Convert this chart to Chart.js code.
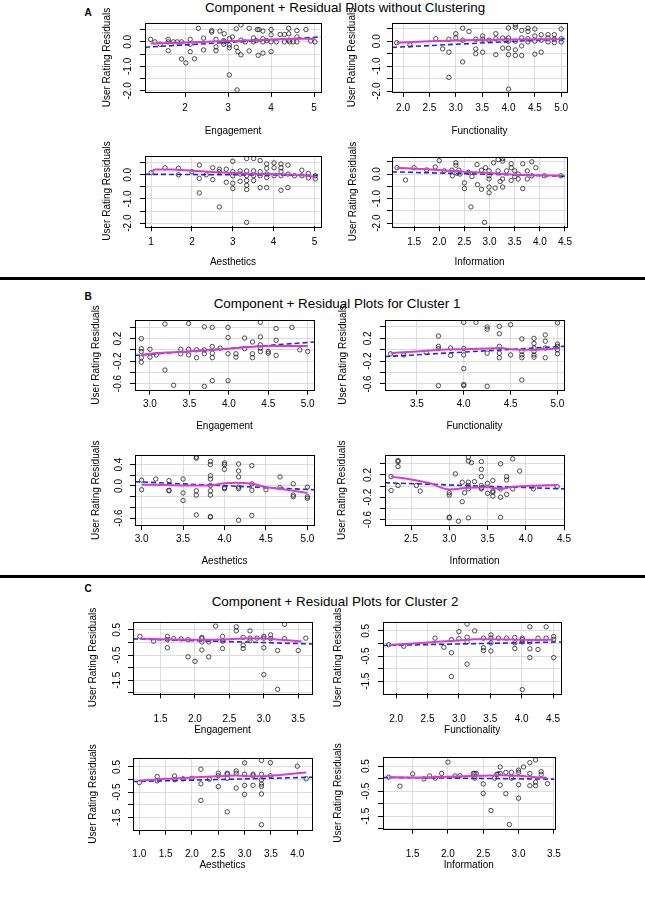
<!DOCTYPE html>
<html>
<head>
<meta charset="utf-8">
<script src="https://cdn.jsdelivr.net/npm/chart.js@4.4.1/dist/chart.umd.min.js"></script>
<style>
  body { margin: 0; background: #fff; width: 645px; height: 899px; overflow: hidden; position: relative;
         font-family: "Liberation Sans", Arial, sans-serif; color: #000; }
  canvas { position: absolute; }
  .title { position: absolute; transform: translate(-50%, -50%); white-space: nowrap; font-size: 13.4px; }
  .letter { position: absolute; transform: translate(-50%, -50%); font-size: 10px; font-weight: bold; }
  .sep { position: absolute; left: 0; width: 645px; height: 2.5px; background: #000; }
</style>
</head>
<body>
<div class="letter" style="left:88px;top:12px">A</div>
<div class="title" style="left:345px;top:7px">Component + Residual Plots without Clustering</div>
<div class="sep" style="top:277px"></div>
<div class="letter" style="left:88px;top:296px">B</div>
<div class="title" style="left:337px;top:303px">Component + Residual Plots for Cluster 1</div>
<div class="sep" style="top:575px"></div>
<div class="letter" style="left:88px;top:588px">C</div>
<div class="title" style="left:335px;top:601px">Component + Residual Plots for Cluster 2</div>

<script>
// ---- data: [component value, residual] ----

// A: without clustering
const ptsA1 = [[1.20,0.10],[1.30,0.00],[1.42,-0.10],[1.61,0.10],[1.61,0.00],[1.61,-0.36],[1.73,0.00],[1.82,0.00],
  [1.92,0.00],[1.92,-0.70],[2.02,-0.86],[2.12,0.10],[2.12,-0.10],[2.12,-0.40],[2.22,-0.69],[2.31,0.55],[2.43,0.15],
  [2.43,-0.33],[2.62,0.46],[2.62,0.40],[2.72,0.10],[2.72,-0.20],[2.72,-0.36],[2.81,0.44],[2.91,0.33],[2.90,0.05],
  [2.90,-0.10],[2.90,0.00],[3.03,0.13],[3.03,-0.13],[3.03,-0.24],[3.03,-1.35],[3.10,0.20],[3.19,0.53],[3.19,-0.22],
  [3.23,-0.40],[3.30,-0.53],[3.30,0.69],[3.21,-1.96],[3.30,0.07],[3.40,0.00],[3.49,0.55],[3.49,-0.37],[3.59,0.16],
  [3.59,0.00],[3.65,0.05],[3.68,0.50],[3.72,0.50],[3.70,-0.55],[3.81,0.44],[3.81,0.13],[3.81,0.00],[3.81,-0.46],
  [3.90,0.05],[4.00,0.50],[4.00,0.29],[4.00,0.00],[4.00,-0.40],[4.12,0.00],[4.21,0.30],[4.31,0.30],[4.31,0.00],
  [4.41,0.55],[4.41,0.33],[4.41,0.07],[4.43,0.00],[4.51,0.00],[4.60,0.46],[4.60,0.20],[4.60,0.00],[4.81,0.50],
  [4.92,0.03],[5.02,0.00]];
const fitA1 = [[1.07,-0.22],[5.16,0.20]];
const smoothA1 = [[1.20,-0.07],[2.00,-0.03],[3.00,0.03],[4.00,0.10],[5.02,0.13]];

const ptsA2 = [[1.88,-0.06],[2.13,-0.15],[2.62,0.10],[2.75,-0.31],[2.87,0.08],[2.87,-0.44],[2.87,-1.45],[3.00,0.30],
  [3.00,0.13],[3.13,0.52],[3.13,0.04],[3.13,-0.83],[3.25,0.39],[3.38,0.08],[3.38,-0.31],[3.38,-0.50],[3.51,0.21],
  [3.51,0.08],[3.51,-0.44],[3.63,0.04],[3.76,0.30],[3.76,0.10],[3.76,-0.54],[3.89,0.13],[3.89,-0.28],[3.95,0.04],
  [4.00,0.53],[4.00,0.13],[4.00,0.00],[4.00,-0.28],[4.00,-0.54],[4.00,-1.92],[4.13,0.65],[4.13,0.55],[4.13,0.00],
  [4.13,-0.35],[4.13,-0.57],[4.25,0.43],[4.25,0.13],[4.25,-0.19],[4.25,-0.57],[4.37,0.52],[4.37,0.39],[4.37,0.10],
  [4.37,-0.03],[4.50,0.49],[4.50,0.21],[4.50,0.00],[4.50,-0.52],[4.62,0.26],[4.62,0.04],[4.62,-0.44],[4.75,0.26],
  [4.75,0.13],[4.75,-0.03],[4.87,0.26],[4.87,0.08],[4.87,-0.06],[5.00,0.49],[5.00,0.10],[5.00,-0.03]];
const fitA2 = [[1.79,-0.25],[5.11,0.10]];
const smoothA2 = [[1.88,-0.06],[2.50,0.00],[3.00,0.03],[3.50,0.05],[4.00,0.07],[4.50,0.08],[5.00,0.08]];

const ptsA3 = [[1.00,0.09],[1.34,0.29],[1.67,0.27],[1.67,0.00],[2.00,0.13],[2.18,0.40],[2.18,-0.15],[2.18,-0.75],
  [2.35,0.00],[2.51,0.29],[2.51,-0.20],[2.67,0.23],[2.67,0.13],[2.67,-1.33],[2.84,0.23],[2.84,-0.31],[3.00,0.56],
  [3.00,0.13],[3.00,-0.04],[3.00,-0.35],[3.00,-0.57],[3.18,0.16],[3.18,0.03],[3.18,-0.27],[3.34,0.67],[3.34,0.16],
  [3.34,-0.04],[3.34,-0.24],[3.34,-0.44],[3.34,-0.61],[3.34,-1.97],[3.51,0.67],[3.51,0.16],[3.51,-0.04],[3.51,-0.24],
  [3.67,0.59],[3.67,0.13],[3.67,-0.04],[3.67,-0.53],[3.83,0.45],[3.83,0.27],[3.83,0.03],[3.83,-0.11],[3.83,-0.53],
  [4.01,0.49],[4.01,0.29],[4.01,-0.04],[4.18,0.45],[4.18,0.29],[4.18,0.13],[4.18,-0.04],[4.18,-0.64],[4.35,0.40],
  [4.35,0.03],[4.35,-0.53],[4.51,-0.04],[4.69,0.19],[4.69,-0.04],[4.85,0.05],[4.85,-0.13],[5.02,-0.04],[5.02,-0.17]];
const fitA3 = [[0.85,0.02],[5.16,-0.02]];
const smoothA3 = [[1.00,0.12],[1.10,0.22],[1.50,0.22],[2.00,0.17],[2.50,0.12],[3.00,0.07],[3.50,0.04],[4.00,0.03],
  [4.50,0.00],[5.02,-0.08]];

const ptsA4 = [[1.16,0.26],[1.33,-0.24],[1.50,0.26],[1.75,0.17],[1.92,0.29],[2.00,0.55],[2.10,0.13],[2.25,0.16],
  [2.26,-0.07],[2.33,0.46],[2.33,0.36],[2.35,0.03],[2.39,0.16],[2.41,0.00],[2.50,-0.36],[2.50,-0.59],[2.58,0.07],
  [2.63,-1.34],[2.65,-0.10],[2.75,0.39],[2.76,-0.43],[2.84,-0.62],[2.84,0.16],[2.92,0.26],[2.90,-1.97],[2.99,0.13],
  [2.99,-0.07],[2.99,-0.20],[2.99,-0.53],[2.99,-0.76],[3.08,0.46],[3.11,-0.57],[3.17,0.59],[3.17,0.13],[3.21,-0.30],
  [3.26,0.63],[3.26,0.53],[3.26,-0.20],[3.26,-0.53],[3.34,0.13],[3.43,0.42],[3.43,0.26],[3.43,-0.26],[3.50,0.13],
  [3.50,-0.10],[3.57,0.00],[3.57,-0.20],[3.66,0.42],[3.66,-0.59],[3.75,0.13],[3.75,-0.20],[3.84,0.50],[3.84,-0.07],
  [3.92,0.26],[4.09,-0.07],[4.42,-0.07]];
const fitA4 = [[1.06,0.09],[4.54,-0.09]];
const smoothA4 = [[1.16,0.26],[2.00,0.17],[2.50,0.09],[3.00,0.04],[3.50,-0.02],[4.00,-0.05],[4.42,-0.07]];

// B: cluster 1
const ptsB1 = [[2.89,0.20],[2.89,0.02],[2.89,-0.03],[2.89,-0.14],[2.89,-0.22],[3.00,0.01],[3.00,-0.13],[3.08,-0.09],
  [3.19,0.46],[3.19,-0.36],[3.30,-0.63],[3.39,0.01],[3.39,-0.07],[3.49,0.47],[3.49,0.01],[3.49,-0.09],[3.59,0.00],
  [3.59,-0.14],[3.69,0.41],[3.69,0.00],[3.69,-0.07],[3.69,-0.65],[3.79,0.40],[3.79,0.06],[3.79,-0.06],[3.79,-0.14],
  [3.79,-0.55],[3.89,0.03],[3.99,0.40],[3.99,0.22],[3.99,-0.07],[3.99,-0.55],[4.09,-0.07],[4.09,-0.13],[4.20,0.21],
  [4.20,0.02],[4.30,0.14],[4.30,-0.07],[4.30,-0.14],[4.40,0.49],[4.40,0.23],[4.40,0.09],[4.40,0.03],[4.40,-0.03],
  [4.50,-0.03],[4.50,-0.06],[4.60,0.38],[4.60,0.17],[4.60,-0.10],[4.80,0.40],[4.90,0.00],[5.00,-0.03]];
const fitB1 = [[2.81,-0.10],[5.08,0.14]];
const smoothB1 = [[2.89,-0.09],[3.00,-0.07],[3.50,-0.03],[4.00,0.02],[4.50,0.07],[5.00,0.07]];

const ptsB2 = [[3.22,-0.07],[3.36,-0.09],[3.60,-0.05],[3.73,0.24],[3.73,0.06],[3.73,0.02],[3.73,-0.63],[3.86,0.03],
  [3.86,-0.10],[4.00,0.48],[4.00,0.02],[4.00,-0.09],[4.00,-0.33],[4.00,-0.61],[4.00,-0.63],[4.13,0.48],[4.25,0.40],
  [4.25,0.36],[4.25,-0.06],[4.25,-0.64],[4.38,0.41],[4.38,0.28],[4.38,0.06],[4.38,-0.06],[4.38,-0.14],[4.50,0.44],
  [4.50,-0.09],[4.62,0.19],[4.62,-0.03],[4.62,-0.09],[4.62,-0.14],[4.62,-0.53],[4.75,0.20],[4.75,0.11],[4.75,0.03],
  [4.75,-0.03],[4.75,-0.09],[4.75,-0.13],[4.87,0.26],[4.87,0.15],[4.87,0.03],[4.87,-0.14],[5.00,0.47],[5.00,0.10],
  [5.00,0.06],[5.00,0.00],[5.00,-0.07]];
const fitB2 = [[3.16,-0.12],[5.07,0.06]];
const smoothB2 = [[3.22,-0.06],[3.50,-0.03],[3.75,0.00],[4.00,0.01],[4.25,0.02],[4.40,0.03],[4.50,0.01],[4.75,0.00],
  [5.00,0.02]];

const ptsB3 = [[3.00,0.11],[3.00,-0.07],[3.17,0.13],[3.33,0.10],[3.33,-0.08],[3.33,-0.09],[3.50,0.13],[3.50,-0.13],
  [3.50,-0.27],[3.66,0.54],[3.66,0.52],[3.66,-0.09],[3.66,-0.17],[3.66,-0.54],[3.83,0.46],[3.83,0.40],[3.83,0.19],
  [3.83,0.13],[3.83,0.01],[3.83,-0.09],[3.83,-0.17],[3.83,-0.57],[3.83,-0.58],[4.00,0.43],[4.00,0.40],[4.00,0.31],
  [4.00,-0.03],[4.00,-0.05],[4.17,0.41],[4.17,0.28],[4.17,0.17],[4.17,-0.02],[4.17,-0.05],[4.17,-0.64],[4.33,0.38],
  [4.33,0.04],[4.33,-0.08],[4.33,-0.55],[4.50,-0.07],[4.67,0.17],[4.67,-0.03],[4.83,0.04],[4.83,-0.17],[4.83,-0.20],
  [5.00,-0.02],[5.00,-0.20],[5.00,-0.23]];
const fitB3 = [[2.92,0.08],[5.08,-0.07]];
const smoothB3 = [[3.00,0.03],[3.50,0.01],[3.83,0.01],[4.00,0.05],[4.15,0.06],[4.33,0.04],[4.50,-0.02],[4.75,-0.07],
  [5.00,-0.13]];

const ptsB4 = [[2.24,0.17],[2.24,-0.08],[2.33,0.46],[2.33,0.44],[2.33,0.35],[2.33,0.01],[2.57,0.01],[2.62,-0.09],
  [3.00,-0.12],[3.00,-0.16],[3.00,-0.56],[3.00,-0.57],[3.08,0.22],[3.12,-0.63],[3.17,0.07],[3.17,-0.28],[3.20,-0.12],
  [3.25,0.52],[3.25,0.45],[3.25,0.07],[3.25,0.01],[3.25,-0.05],[3.25,-0.57],[3.29,0.42],[3.33,0.08],[3.42,0.44],
  [3.42,0.30],[3.42,0.17],[3.42,0.01],[3.42,-0.03],[3.42,-0.05],[3.50,0.05],[3.50,-0.13],[3.57,0.10],[3.57,-0.09],
  [3.57,-0.11],[3.57,-0.18],[3.67,-0.05],[3.67,0.40],[3.67,-0.20],[3.67,-0.56],[3.75,0.17],[3.75,0.11],[3.75,-0.15],
  [3.83,0.49],[3.83,-0.05],[3.92,0.27],[4.10,-0.05],[4.41,-0.01]];
const fitB4 = [[2.16,0.06],[4.50,-0.05]];
const smoothB4 = [[2.24,0.17],[2.50,0.12],[2.75,0.05],[3.00,-0.06],[3.25,-0.03],[3.50,-0.02],[3.67,-0.05],[3.83,-0.01],
  [4.00,0.00],[4.41,0.02]];

// C: cluster 2
const ptsC1 = [[1.20,0.24],[1.40,0.05],[1.60,0.24],[1.60,0.11],[1.60,-0.21],[1.69,0.15],[1.80,0.14],[1.90,0.11],
  [1.90,-0.57],[2.00,-0.75],[2.10,0.20],[2.10,0.15],[2.10,0.02],[2.10,-0.30],[2.20,0.02],[2.20,-0.57],[2.30,0.65],
  [2.40,0.24],[2.40,0.05],[2.40,-0.24],[2.60,0.62],[2.60,0.46],[2.70,-0.11],[2.70,-0.24],[2.70,0.20],[2.80,0.46],
  [2.80,0.17],[2.80,0.07],[2.90,0.17],[3.00,0.24],[3.00,0.17],[3.00,-0.21],[3.00,-1.28],[3.10,0.30],[3.10,0.15],
  [3.20,-0.32],[3.20,-1.86],[3.30,0.72],[3.30,0.15],[3.50,-0.32],[3.61,0.17]];
const fitC1 = [[1.10,0.14],[3.70,-0.06]];
const smoothC1 = [[1.20,0.15],[1.50,0.13],[2.00,0.11],[2.50,0.13],[2.80,0.17],[3.00,0.16],[3.20,0.12],[3.55,0.04]];

const ptsC2 = [[1.88,-0.05],[2.12,-0.11],[2.62,0.21],[2.76,-0.15],[2.88,0.15],[2.88,-0.37],[2.88,-1.31],[3.00,0.47],
  [3.00,0.19],[3.13,0.77],[3.13,0.25],[3.13,0.06],[3.13,-0.82],[3.25,0.50],[3.39,0.21],[3.39,-0.17],[3.39,-0.28],
  [3.51,0.34],[3.51,0.21],[3.51,0.02],[3.51,-0.30],[3.63,0.21],[3.76,0.21],[3.89,0.24],[3.89,0.02],[3.89,-0.20],
  [4.01,0.21],[4.01,0.15],[4.01,0.06],[4.01,-1.83],[4.13,0.66],[4.13,0.06],[4.13,-0.21],[4.13,-0.56],[4.26,0.21],
  [4.26,-0.24],[4.39,0.66],[4.39,0.21],[4.51,0.28],[4.51,0.17],[4.51,-0.56]];
const fitC2 = [[1.79,-0.08],[4.63,0.06]];
const smoothC2 = [[1.88,-0.07],[2.50,0.04],[3.00,0.12],[3.25,0.17],[3.50,0.17],[4.00,0.15],[4.25,0.14],[4.50,0.15]];

const ptsC3 = [[1.00,-0.12],[1.34,0.12],[1.34,-0.05],[1.67,0.14],[1.67,-0.01],[1.83,0.03],[2.00,0.05],[2.17,0.41],
  [2.17,-0.17],[2.17,-0.83],[2.33,0.01],[2.50,0.25],[2.50,0.15],[2.50,-0.28],[2.67,0.25],[2.67,0.21],[2.67,0.05],
  [2.67,-1.28],[2.84,0.34],[2.84,0.25],[2.84,-0.34],[3.00,0.66],[3.00,0.21],[3.00,-0.23],[3.00,-0.59],[3.16,0.21],
  [3.16,0.15],[3.16,-0.23],[3.32,0.76],[3.32,0.21],[3.32,-0.01],[3.32,-0.18],[3.32,-0.27],[3.32,-0.57],[3.32,-1.79],
  [3.49,0.67],[3.49,0.15],[4.00,0.53],[4.17,0.03]];
const fitC3 = [[0.88,-0.08],[4.28,0.09]];
const smoothC3 = [[1.00,-0.05],[1.50,0.03],[2.00,0.08],[2.50,0.13],[2.84,0.16],[3.16,0.13],[3.50,0.15],[4.00,0.25],
  [4.17,0.28]];

const ptsC4 = [[1.16,0.06],[1.32,-0.30],[1.50,0.19],[1.66,-0.01],[1.74,0.11],[1.82,0.02],[1.91,0.21],[2.00,0.66],
  [2.10,0.11],[2.17,0.12],[2.36,0.21],[2.38,0.21],[2.38,0.02],[2.40,0.21],[2.50,-0.21],[2.50,-0.59],[2.61,-1.27],
  [2.66,0.02],[2.69,0.17],[2.71,0.19],[2.74,0.47],[2.74,0.21],[2.74,-0.26],[2.82,0.25],[2.82,-0.60],[2.87,-1.83],
  [2.90,0.25],[2.90,0.02],[3.00,0.34],[3.00,0.25],[3.00,-0.24],[3.00,-0.78],[3.07,0.47],[3.16,0.21],[3.16,-0.28],
  [3.16,0.64],[3.24,0.75],[3.24,-0.14],[3.24,-0.28],[3.32,0.28],[3.32,0.17],[3.41,-0.20]];
const fitC4 = [[1.08,0.05],[3.51,-0.02]];
const smoothC4 = [[1.16,0.06],[1.50,0.05],[2.00,0.08],[2.50,0.12],[2.75,0.14],[3.00,0.12],[3.25,0.06],[3.40,0.04]];

// y tick labels that R printed (other ticks unlabeled)
const yLabelsA = ["0.0", "-1.0", "-2.0"];
const yLabelsB12 = ["0.2", "-0.2", "-0.6"];
const yLabelsB3 = ["0.4", "0.0", "-0.6"];
const yLabelsC = ["0.5", "-0.5", "-1.5"];

// ---- layout of each panel: vertical positions were measured on a taller copy, SY brings them to the page ----
const FONT = '"Liberation Sans", Arial, sans-serif';
const SY = 0.967;
const panels = [
  { pts: ptsA1, fit: fitA1, smooth: smoothA1, xTitle: "Engagement", yLabels: yLabelsA,
    box: [145, 24, 321, 95], x: [1.07, 5.16, 1, 0], y: [-2.04, 0.76, 0.5], yTitleX: 107, yTickX: 128.3, xTickY: 111.7, xTitleY: 135 },
  { pts: ptsA2, fit: fitA2, smooth: smoothA2, xTitle: "Functionality", yLabels: yLabelsA,
    box: [392, 24, 567, 95], x: [1.79, 5.11, 0.5, 1], y: [-2.03, 0.72, 0.5], yTitleX: 352.3, yTickX: 377.3, xTickY: 111.7, xTitleY: 135 },
  { pts: ptsA3, fit: fitA3, smooth: smoothA3, xTitle: "Aesthetics", yLabels: yLabelsA,
    box: [145, 161, 321, 234], x: [0.85, 5.16, 1, 0], y: [-2.13, 0.79, 0.5], yTitleX: 107, yTickX: 128.3, xTickY: 250, xTitleY: 271 },
  { pts: ptsA4, fit: fitA4, smooth: smoothA4, xTitle: "Information", yLabels: yLabelsA,
    box: [392, 162, 567, 234], x: [1.06, 4.54, 0.5, 1], y: [-2.13, 0.71, 0.5], yTitleX: 353, yTickX: 377.7, xTickY: 250, xTitleY: 271 },
  { pts: ptsB1, fit: fitB1, smooth: smoothB1, xTitle: "Engagement", yLabels: yLabelsB12,
    box: [135, 331, 314, 403], x: [2.81, 5.08, 0.5, 1], y: [-0.71, 0.53, 0.2], yTitleX: 95.7, yTickX: 118.3, xTickY: 418.3, xTitleY: 440.7 },
  { pts: ptsB2, fit: fitB2, smooth: smoothB2, xTitle: "Functionality", yLabels: yLabelsB12,
    box: [385, 331, 564, 403], x: [3.16, 5.07, 0.5, 1], y: [-0.70, 0.52, 0.2], yTitleX: 343.3, yTickX: 368.3, xTickY: 418.3, xTitleY: 440.7 },
  { pts: ptsB3, fit: fitB3, smooth: smoothB3, xTitle: "Aesthetics", yLabels: yLabelsB3,
    box: [135, 471, 314, 543], x: [2.92, 5.08, 0.5, 1], y: [-0.73, 0.57, 0.2], yTitleX: 95.7, yTickX: 119.3, xTickY: 557.7, xTitleY: 580 },
  { pts: ptsB4, fit: fitB4, smooth: smoothB4, xTitle: "Information", yLabels: yLabelsB12,
    box: [385, 471, 564, 543], x: [2.16, 4.50, 0.5, 1], y: [-0.70, 0.55, 0.2], yTitleX: 342.3, yTickX: 368.3, xTickY: 557.7, xTitleY: 580 },
  { pts: ptsC1, fit: fitC1, smooth: smoothC1, xTitle: "Engagement", yLabels: yLabelsC,
    box: [133, 643, 312, 717], x: [1.10, 3.70, 0.5, 1], y: [-2.02, 0.82, 0.5], yTitleX: 93.3, yTickX: 117.3, xTickY: 743.3, xTitleY: 755 },
  { pts: ptsC2, fit: fitC2, smooth: smoothC2, xTitle: "Functionality", yLabels: yLabelsC,
    box: [383, 643, 563, 717], x: [1.79, 4.63, 0.5, 1], y: [-1.98, 0.86, 0.5], yTitleX: 338.3, yTickX: 366.7, xTickY: 743.3, xTitleY: 755 },
  { pts: ptsC3, fit: fitC3, smooth: smoothC3, xTitle: "Aesthetics", yLabels: yLabelsC,
    box: [133, 784, 312, 858], x: [0.88, 4.28, 0.5, 1], y: [-1.99, 0.85, 0.5], yTitleX: 93.3, yTickX: 117.3, xTickY: 883, xTitleY: 895 },
  { pts: ptsC4, fit: fitC4, smooth: smoothC4, xTitle: "Information", yLabels: yLabelsC,
    box: [383, 783, 563, 857], x: [1.08, 3.51, 0.5, 1], y: [-2.00, 0.86, 0.5], yTitleX: 338.3, yTickX: 366.7, xTickY: 883, xTitleY: 895 },
];

const measure = document.createElement("canvas").getContext("2d");
function textWidth(s, size) {
  measure.font = size + "px " + FONT;
  return measure.measureText(s).width;
}

// R-style box round the plot region
const boxPlugin = {
  id: "box",
  afterDatasetsDraw(chart) {
    const { ctx, chartArea: a } = chart;
    ctx.save();
    ctx.strokeStyle = "#000";
    ctx.lineWidth = 1;
    ctx.strokeRect(Math.round(a.left) + 0.5, Math.round(a.top) + 0.5,
      Math.round(a.right - a.left), Math.round(a.bottom - a.top));
    ctx.restore();
  },
};

const toXY = (arr) => arr.map(([x, y]) => ({ x, y }));

function drawPanel(p) {
  const l = p.box[0], r = p.box[2];
  const t = p.box[1] * SY, b = p.box[3] * SY;
  const xTickY = p.xTickY * SY, xTitleY = p.xTitleY * SY;
  const left = Math.round(p.yTitleX - 8);
  const top = Math.round(t - 22);   // room for the long y title
  const right = r + 12;
  const bottom = Math.round(xTitleY + 8);
  const cv = document.createElement("canvas");
  cv.width = right - left;
  cv.height = bottom - top;
  cv.style.left = left + "px";
  cv.style.top = top + "px";
  document.body.appendChild(cv);

  const yw = l - left;
  const xh = bottom - b;
  const widest = Math.max(...p.yLabels.map((s) => textWidth(s, 10)));
  const tickFont = { family: FONT, size: 10 };

  new Chart(cv, {
    type: "scatter",
    data: {
      datasets: [
        { data: toXY(p.smooth), showLine: true, pointRadius: 0, borderColor: "#d63cd6", borderWidth: 2,
          cubicInterpolationMode: "monotone", order: 0 },
        { data: toXY(p.fit), showLine: true, pointRadius: 0, borderColor: "#1c2fbf", borderWidth: 1.6,
          borderDash: [5, 3], order: 1 },
        { data: toXY(p.pts), pointRadius: 2.2, borderWidth: 0.8, borderColor: "#222",
          backgroundColor: "rgba(0,0,0,0)", order: 2 },
      ],
    },
    options: {
      responsive: false,
      animation: false,
      events: [],
      layout: { padding: { left: 0, top: t - top, right: 12, bottom: 0 } },
      plugins: { legend: { display: false }, tooltip: { enabled: false } },
      scales: {
        x: {
          type: "linear", bounds: "ticks", min: p.x[0], max: p.x[1],
          afterFit: (s) => { s.height = xh; },
          ticks: {
            stepSize: p.x[2], includeBounds: false, autoSkip: false, minRotation: 0, maxRotation: 0,
            color: "#000", font: tickFont, padding: xTickY - b - 5 - 6,
            callback: (v) => Number(v).toFixed(p.x[3]),
          },
          grid: { color: "#dcdcdc", tickColor: "#000", tickLength: 5, lineWidth: 1 },
          border: { display: false },
          title: { display: true, text: p.xTitle, color: "#000", font: tickFont, padding: { top: 0, bottom: 2 } },
        },
        y: {
          type: "linear", bounds: "ticks", min: p.y[0], max: p.y[1],
          afterFit: (s) => { s.width = yw; },
          ticks: {
            stepSize: p.y[2], includeBounds: false, autoSkip: false, minRotation: 90, maxRotation: 90,
            crossAlign: "center", color: "#000", font: tickFont,
            padding: (l - p.yTickX) - 5 - widest / 2,
            callback: (v) => {
              const s = Number(v).toFixed(1);
              return p.yLabels.includes(s) ? s : "";
            },
          },
          grid: { color: "#dcdcdc", tickColor: "#000", tickLength: 5, lineWidth: 1 },
          border: { display: false },
          title: { display: true, text: "User Rating Residuals", color: "#000", font: tickFont,
            padding: { top: 2, bottom: 0 } },
        },
      },
    },
    plugins: [boxPlugin],
  });
}

panels.forEach(drawPanel);
</script>
</body>
</html>
